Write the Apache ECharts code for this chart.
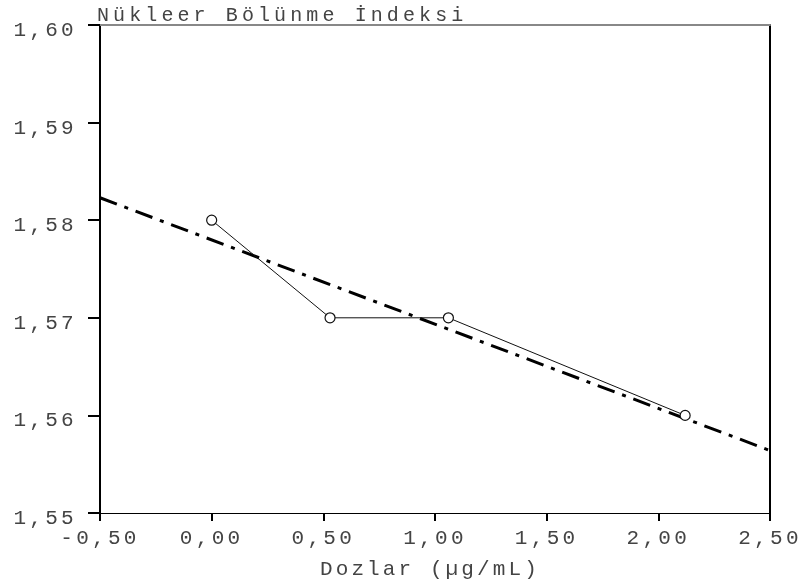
<!DOCTYPE html>
<html><head><meta charset="utf-8">
<script src="https://cdn.jsdelivr.net/npm/echarts@6/dist/echarts.min.js"></script>
<style>html,body{margin:0;padding:0;background:#fff}#c{width:802px;height:584px}</style>
</head><body><div id="c"></div>
<script>
const doseX = [0, 0.53, 1.06, 2.12];
const nbiY = [1.58, 1.57, 1.57, 1.56];
const fitX = [-0.5, 2.5];
const fitY = [1.5823, 1.5564];
const titleText = 'Nükleer Bölünme İndeksi';
const xName = 'Dozlar (µg/mL)';

const FONT = "'Liberation Mono', 'DejaVu Sans Mono', monospace";
const fmt = v => v.toFixed(2).replace('.', ',');

// wide letter spacing of the original typewriter-style font
function spacingFor(t) {
  if (/^-?\d,\d\d$/.test(t)) return '3.3px';
  if (t === xName) return '3.1px';
  if (t === titleText) return '4.1px';
  return null;
}
const origFill = CanvasRenderingContext2D.prototype.fillText;
CanvasRenderingContext2D.prototype.fillText = function (t, x, y, m) {
  const ls = spacingFor(String(t));
  const prev = this.letterSpacing;
  if (ls && 'letterSpacing' in this) this.letterSpacing = ls;
  const r = (m === undefined) ? origFill.call(this, t, x, y) : origFill.call(this, t, x, y, m);
  if (ls && 'letterSpacing' in this) this.letterSpacing = prev;
  return r;
};

const chart = echarts.init(document.getElementById('c'), null, {renderer: 'canvas'});
chart.setOption({
  animation: false,
  backgroundColor: '#fff',
  grid: {left: 100, right: 32, top: 25, bottom: 71},
  xAxis: [{
    type: 'value', min: -0.5, max: 2.5, interval: 0.5, position: 'bottom',
    axisLine: {onZero: false, lineStyle: {color: '#000', width: 1}},
    axisTick: {show: true, length: 8, lineStyle: {color: '#000', width: 2}},
    axisLabel: {margin: 15, color: '#444', fontFamily: FONT, fontSize: 21, formatter: fmt},
    splitLine: {show: false}
  }, {
    type: 'value', min: -0.5, max: 2.5, position: 'top',
    axisLine: {show: true, onZero: false, lineStyle: {color: '#888', width: 2}},
    axisTick: {show: false}, axisLabel: {show: false}, splitLine: {show: false}
  }],
  yAxis: [{
    type: 'value', min: 1.55, max: 1.60, interval: 0.01, position: 'left',
    axisLine: {show: true, onZero: false, lineStyle: {color: '#000', width: 2}},
    axisTick: {show: true, length: 12, lineStyle: {color: '#000', width: 2}},
    axisLabel: {margin: 23, color: '#444', fontFamily: FONT, fontSize: 21, formatter: fmt,
                verticalAlign: 'top', lineHeight: 11},
    splitLine: {show: false}
  }, {
    type: 'value', min: 1.55, max: 1.60, position: 'right',
    axisLine: {show: true, onZero: false, lineStyle: {color: '#000', width: 2}},
    axisTick: {show: false}, axisLabel: {show: false}, splitLine: {show: false}
  }],
  graphic: [
    {type: 'text', left: 97, top: 6, style: {text: titleText, fill: '#444', font: "20px " + FONT}},
    {type: 'text', left: 320, top: 559, style: {text: xName, fill: '#444', font: "21px " + FONT}}
  ],
  series: [{
    type: 'line',
    data: fitX.map((x, i) => [x, fitY[i]]),
    showSymbol: false, symbol: 'none',
    lineStyle: {color: '#000', width: 3, type: [18, 8, 4, 8], cap: 'butt'},
    z: 2
  }, {
    type: 'line',
    data: doseX.map((x, i) => [x, nbiY[i]]),
    symbol: 'circle', symbolSize: 10, showSymbol: true,
    lineStyle: {color: '#111', width: 1},
    itemStyle: {color: '#fff', borderColor: '#111', borderWidth: 1.2},
    z: 3
  }]
});
</script>
</body></html>
